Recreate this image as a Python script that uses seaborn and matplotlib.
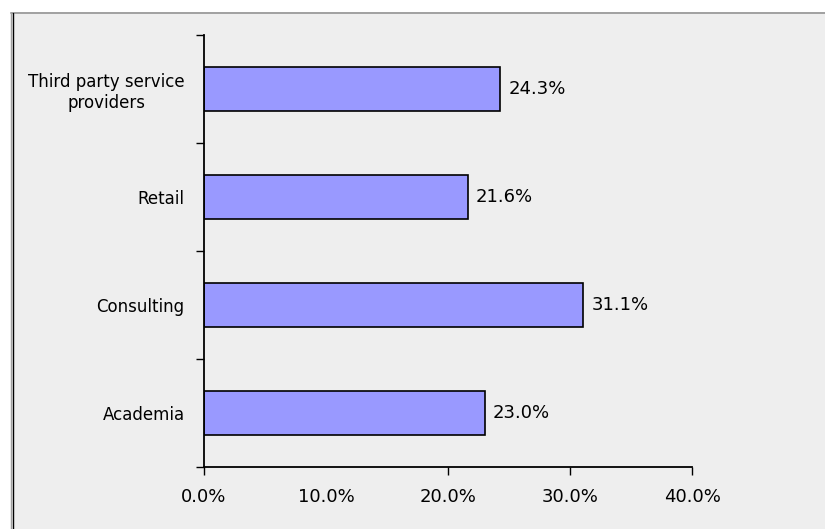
import matplotlib
matplotlib.use("Agg")
import matplotlib.pyplot as plt
from matplotlib.patches import Rectangle
from matplotlib.lines import Line2D
import seaborn as sns
import pandas as pd

categories = ["Third party service\nproviders", "Retail", "Consulting", "Academia"]
shares = [24.3, 21.6, 31.1, 23.0]
x_ticks = [0, 10, 20, 30, 40]
x_tick_labels = ["0.0%", "10.0%", "20.0%", "30.0%", "40.0%"]

sns.set_theme(style="white")
plt.rcParams["font.family"] = ["DejaVu Sans"]
plt.rcParams["text.color"] = "black"
plt.rcParams["xtick.color"] = "black"
plt.rcParams["ytick.color"] = "black"

FS = 12      # category labels
FS_NUM = 13  # percentage labels
W, H = 825, 529
fig = plt.figure(figsize=(W / 100, H / 100), dpi=100, facecolor="white")

# gray panel with framing lines on its top and left edges
bg = "#EEEEEE"
fig.patches.append(Rectangle((10 / W, 0), 1, 1 - 12 / H, transform=fig.transFigure,
                             facecolor=bg, edgecolor="none", zorder=-10))
fig.lines.append(Line2D([10.5 / W, 1], [1 - 12.5 / H, 1 - 12.5 / H], transform=fig.transFigure,
                        color="#A0A0A0", lw=1.4))
fig.lines.append(Line2D([10.5 / W, 10.5 / W], [0, 1 - 12.5 / H], transform=fig.transFigure,
                        color="#A0A0A0", lw=0.8))
fig.lines.append(Line2D([12.5 / W, 12.5 / W], [0, 1 - 13 / H], transform=fig.transFigure,
                        color="black", lw=1.0))

ax = fig.add_axes([204 / W, 1 - 467 / H, (692 - 204) / W, (467 - 35) / H])
ax.set_facecolor(bg)

df = pd.DataFrame({"category": categories, "share": shares})
sns.barplot(data=df, x="share", y="category", order=categories, orient="h",
            color="#9999FF", saturation=1, width=0.4, edgecolor="black", linewidth=1.2, ax=ax)

for i, v in enumerate(shares):
    ax.text(v + 0.65, i, f"{v:.1f}%", va="center", ha="left", fontsize=FS_NUM, color="black")

ax.set_xlim(0, 40)
ax.set_ylim(len(categories) - 0.5, -0.5)
ax.set_xlabel("")
ax.set_ylabel("")

for side in ["top", "right"]:
    ax.spines[side].set_visible(False)
for side in ["left", "bottom"]:
    ax.spines[side].set_color("black")
    ax.spines[side].set_linewidth(1.3)

ax.set_xticks(x_ticks)
ax.set_xticklabels(x_tick_labels, fontsize=FS_NUM)
ax.tick_params(axis="x", which="major", bottom=True, direction="out", length=6, width=1,
               color="black", pad=9)
# the 10% position carries a label but no tick mark
ax.xaxis.get_major_ticks()[1].tick1line.set_visible(False)

ax.set_yticks(range(len(categories)))
ax.set_yticklabels(categories, fontsize=FS, ha="right", multialignment="center")
ax.tick_params(axis="y", which="major", left=True, length=0, pad=14)
ax.set_yticks([i - 0.5 for i in range(len(categories) + 1)], minor=True)
ax.tick_params(axis="y", which="minor", left=True, direction="out", length=6, width=1,
               color="black")

fig.savefig("out.png", dpi=100, facecolor="white")
